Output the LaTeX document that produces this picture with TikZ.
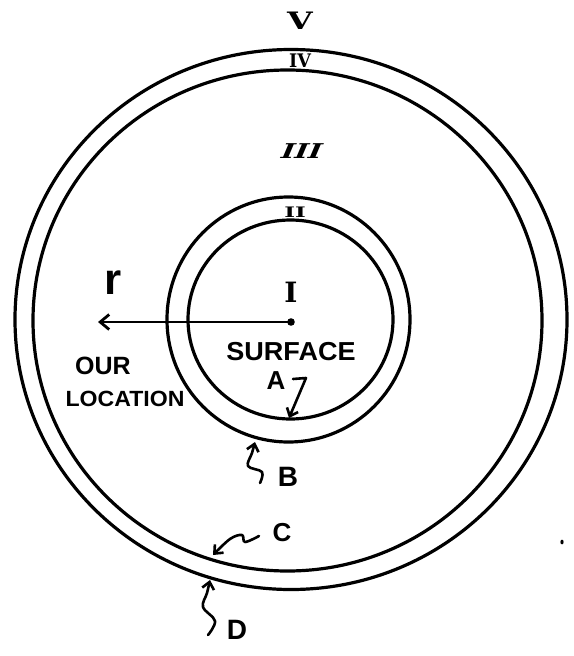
\documentclass[tikz,border=0pt]{standalone}
\usepackage{fontspec}
\setsansfont{Liberation Sans}
\newfontfamily\romfont{DejaVu Serif}
\usetikzlibrary{arrows.meta}
\begin{document}
\begin{tikzpicture}[x=1pt,y=-1pt,line width=2.8pt,line cap=round,line join=round,
  ring/.style={draw=black,line width=3.2pt},
  roman/.style={font=\romfont\bfseries\fontsize{#1}{#1}\selectfont,inner sep=0pt},
  hand/.style={font=\sffamily\bfseries\fontsize{#1}{#1}\selectfont,inner sep=0pt},
  barb/.style={-{Straight Barb[length=7pt,width=12pt,line width=2.6pt]}},
  wiggle/.style={barb,line width=2.6pt}]
\useasboundingbox (0,0) rectangle (573,656);
% rings
\draw[ring] (291,319.5) ellipse [x radius=276pt, y radius=270pt];
\draw[ring] (287.5,320.5) ellipse [x radius=254.5pt, y radius=250.5pt];
\draw[ring] (288.5,319.5) ellipse [x radius=121.5pt, y radius=122.5pt];
\draw[ring] (290.5,319.5) ellipse [x radius=102.5pt, y radius=99.5pt];
% roman numerals
\node[roman=30,xscale=1.1,yscale=0.8] (n5) at (300,21) {V};
\node[roman=22,xscale=0.8,yscale=0.85] (n4) at (300,61) {IV};
\node[roman=24,xscale=1.2,yscale=0.85,xslant=0.3] (n3) at (302,151) {III};
\node[roman=17,xscale=1.35,yscale=0.85] (n2) at (295,212) {II};
\node[roman=28] (n1) at (291,292) {I};
% radius arrow
\coordinate (ctr) at (291,322);
\coordinate (loc) at (98,322);
\fill (ctr) circle (3.8pt);
\draw[-{Straight Barb[length=9pt,width=15pt,line width=2.8pt]},line width=2.8pt] (ctr) -- (loc);
\node[font=\sffamily\bfseries\fontsize{44}{44}\selectfont,inner sep=0pt] (r) at (113,283) {r};
\node[hand=25] (our) at (103,366) {OUR};
\node[hand=22,xscale=1.05] (location) at (125,399) {LOCATION};
\node[hand=26,xscale=1.04] (surface) at (291,352) {SURFACE};
\node[hand=26] (a) at (276,381) {A};
\node[hand=28] (b) at (288,477) {B};
\node[hand=26] (c) at (282,533) {C};
\node[hand=28] (d) at (237,630) {D};
% pointers
\coordinate (atail) at (293,379);
\coordinate (atip) at (289,418);
\draw[wiggle] (atail) -- (306,378) -- (atip);
\coordinate (btail) at (260,483);
\coordinate (btip) at (255,442);
\draw[wiggle] plot[smooth,tension=0.6] coordinates {(btail) (262,472) (248,466) (252,453) (btip)};
\coordinate (ctail) at (259,536);
\coordinate (ctip) at (213,555);
\draw[wiggle] plot[smooth,tension=0.6] coordinates {(ctail) (245,542) (242,535) (230,539) (ctip)};
\coordinate (dtail) at (208,635);
\coordinate (dtip) at (210,580);
\draw[wiggle] plot[smooth,tension=0.6] coordinates {(dtail) (215,621) (203,607) (207,593) (dtip)};
% speck
\fill (562,542) ellipse [x radius=1.6pt, y radius=2.4pt];
\end{tikzpicture}
\end{document}
